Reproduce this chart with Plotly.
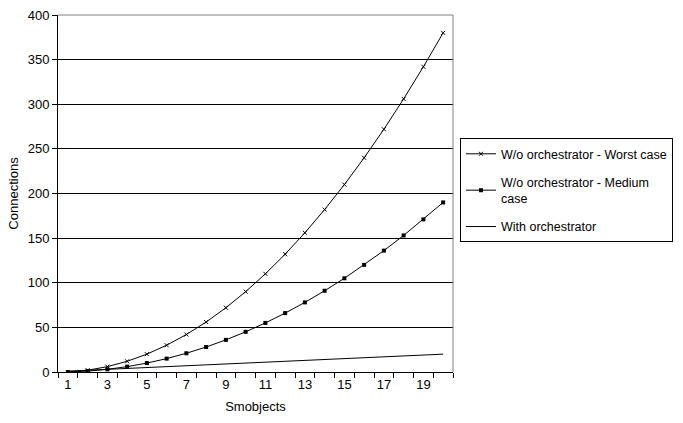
import plotly.graph_objects as go

smobjects = list(range(1, 21))
worst_case = [0, 2, 6, 12, 20, 30, 42, 56, 72, 90, 110, 132, 156, 182, 210, 240, 272, 306, 342, 380]
medium_case = [0, 1, 3, 6, 10, 15, 21, 28, 36, 45, 55, 66, 78, 91, 105, 120, 136, 153, 171, 190]
with_orch = [1, 2, 3, 4, 5, 6, 7, 8, 9, 10, 11, 12, 13, 14, 15, 16, 17, 18, 19, 20]
x_tick_labels = [1, 3, 5, 7, 9, 11, 13, 15, 17, 19]
y_ticks = [0, 50, 100, 150, 200, 250, 300, 350, 400]

font = "Liberation Sans, Arial, sans-serif"

fig = go.Figure()
fig.add_trace(go.Scatter(x=smobjects, y=worst_case, mode="lines+markers",
                         name="W/o orchestrator - Worst case", legendgroup="a",
                         line=dict(color="black", width=1),
                         marker=dict(symbol="x-thin", size=4, color="black",
                                     line=dict(color="black", width=1))))
fig.add_trace(go.Scatter(x=smobjects, y=medium_case, mode="lines+markers",
                         name="W/o orchestrator - Medium<br>case", legendgroup="b",
                         line=dict(color="black", width=1),
                         marker=dict(symbol="square", size=4, color="black")))
fig.add_trace(go.Scatter(x=smobjects, y=with_orch, mode="lines",
                         name="With orchestrator", legendgroup="c",
                         line=dict(color="black", width=1)))

fig.update_layout(
    width=683, height=423,
    margin=dict(l=58, r=230, t=15, b=51, autoexpand=False),
    paper_bgcolor="white", plot_bgcolor="white",
    font=dict(family=font, size=13, color="black"),
    showlegend=True,
    legend=dict(x=1.0177, y=0.655, xanchor="left", yanchor="top",
                bordercolor="black", borderwidth=1, bgcolor="white",
                font=dict(family=font, size=12.5, color="black"),
                tracegroupgap=9, itemwidth=30),
    xaxis=dict(range=[0.5, 20.5], tickmode="array", tickvals=x_tick_labels,
               ticktext=[str(v) for v in x_tick_labels], ticks="", showgrid=False,
               showline=True, linecolor="black", linewidth=1, zeroline=False,
               minor=dict(tickmode="array", tickvals=[i + 0.5 for i in range(0, 21)],
                          ticks="outside", ticklen=5, tickcolor="black", showgrid=False),
               title=dict(text="Smobjects", font=dict(family=font, size=13), standoff=11),
               tickfont=dict(family=font, size=13)),
    yaxis=dict(range=[0, 400], tickmode="array", tickvals=y_ticks, ticks="outside",
               ticklen=5, tickcolor="black", showgrid=True, gridcolor="black", gridwidth=1,
               showline=True, linecolor="black", linewidth=1, zeroline=False,
               title=dict(text="Connections", font=dict(family=font, size=13), standoff=6),
               tickfont=dict(family=font, size=13)),
    shapes=[
        dict(type="line", xref="paper", yref="paper", x0=0, x1=1, y0=1, y1=1,
             line=dict(color="#808080", width=1), layer="above"),
        dict(type="line", xref="paper", yref="paper", x0=1, x1=1, y0=0, y1=1,
             line=dict(color="#808080", width=1), layer="above"),
    ],
)

fig.write_html("out.html")
